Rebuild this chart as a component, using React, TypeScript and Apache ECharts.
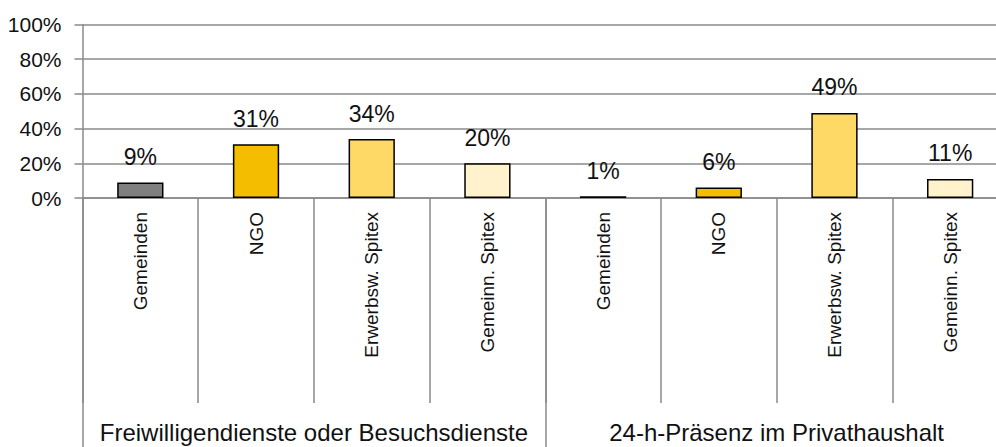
import React, { useEffect, useRef } from "react";
import * as echarts from "echarts";

const categories = [
  "Gemeinden", "NGO", "Erwerbsw. Spitex", "Gemeinn. Spitex",
  "Gemeinden", "NGO", "Erwerbsw. Spitex", "Gemeinn. Spitex",
];
const groups = ["Freiwilligendienste oder Besuchsdienste", "24-h-Präsenz im Privathaushalt"];
const values = [9, 31, 34, 20, 1, 6, 49, 11];
const barColors = ["#7f7f7f", "#f5bd00", "#ffd966", "#fff2cc", "#7f7f7f", "#f5bd00", "#ffd966", "#fff2cc"];
const yTicks = [0, 20, 40, 60, 80, 100];

const FONT = "'Liberation Sans', Arial, sans-serif";
const GREY = "#8a8a8a";

export default function App() {
  const ref = useRef<HTMLDivElement>(null);
  useEffect(() => {
    if (!ref.current) return;
    const chart = echarts.init(ref.current, undefined, { renderer: "svg" });
    chart.setOption({
      animation: false,
      grid: { left: 82.5, top: 24.5, bottom: 249, right: 0, containLabel: false },
      xAxis: [
        {
          type: "category",
          data: categories,
          position: "bottom",
          axisLine: { show: true, lineStyle: { color: GREY, width: 1.5 } },
          axisTick: { show: true, interval: 0, length: 205, lineStyle: { color: GREY, width: 1.5 } },
          axisLabel: {
            interval: 0,
            rotate: 90,
            margin: 14,
            fontSize: 19,
            fontFamily: FONT,
            color: "#111",
          },
        },
        {
          type: "category",
          data: groups,
          position: "bottom",
          axisLine: { show: false },
          axisTick: { show: true, interval: 0, length: 249, lineStyle: { color: GREY, width: 1.5 } },
          axisLabel: {
            interval: 0,
            margin: 222,
            fontSize: 24,
            fontFamily: FONT,
            color: "#111",
          },
        },
      ],
      yAxis: {
        type: "value",
        min: yTicks[0],
        max: yTicks[yTicks.length - 1],
        interval: 20,
        axisLine: { show: true, lineStyle: { color: GREY, width: 1.5 } },
        axisTick: { show: true, length: 8, lineStyle: { color: GREY, width: 1.5 } },
        splitLine: { show: true, lineStyle: { color: GREY, width: 1.5 } },
        axisLabel: {
          formatter: "{value}%",
          margin: 21,
          fontSize: 21,
          fontFamily: FONT,
          color: "#111",
        },
      },
      series: [
        {
          type: "bar",
          xAxisIndex: 0,
          barWidth: "40%",
          data: values.map((v, i) => ({
            value: v,
            itemStyle: { color: barColors[i], borderColor: "#000", borderWidth: 1.5 },
          })),
          label: {
            show: true,
            position: "top",
            distance: 14,
            formatter: "{c}%",
            fontSize: 23,
            fontFamily: FONT,
            color: "#111",
          },
        },
      ],
    });
    return () => chart.dispose();
  }, []);
  return (
    <div style={{ position: "fixed", left: 0, top: 0, width: 996, height: 447, overflow: "hidden", background: "#fff" }}>
      <div ref={ref} style={{ width: 1008, height: 447 }} />
    </div>
  );
}
